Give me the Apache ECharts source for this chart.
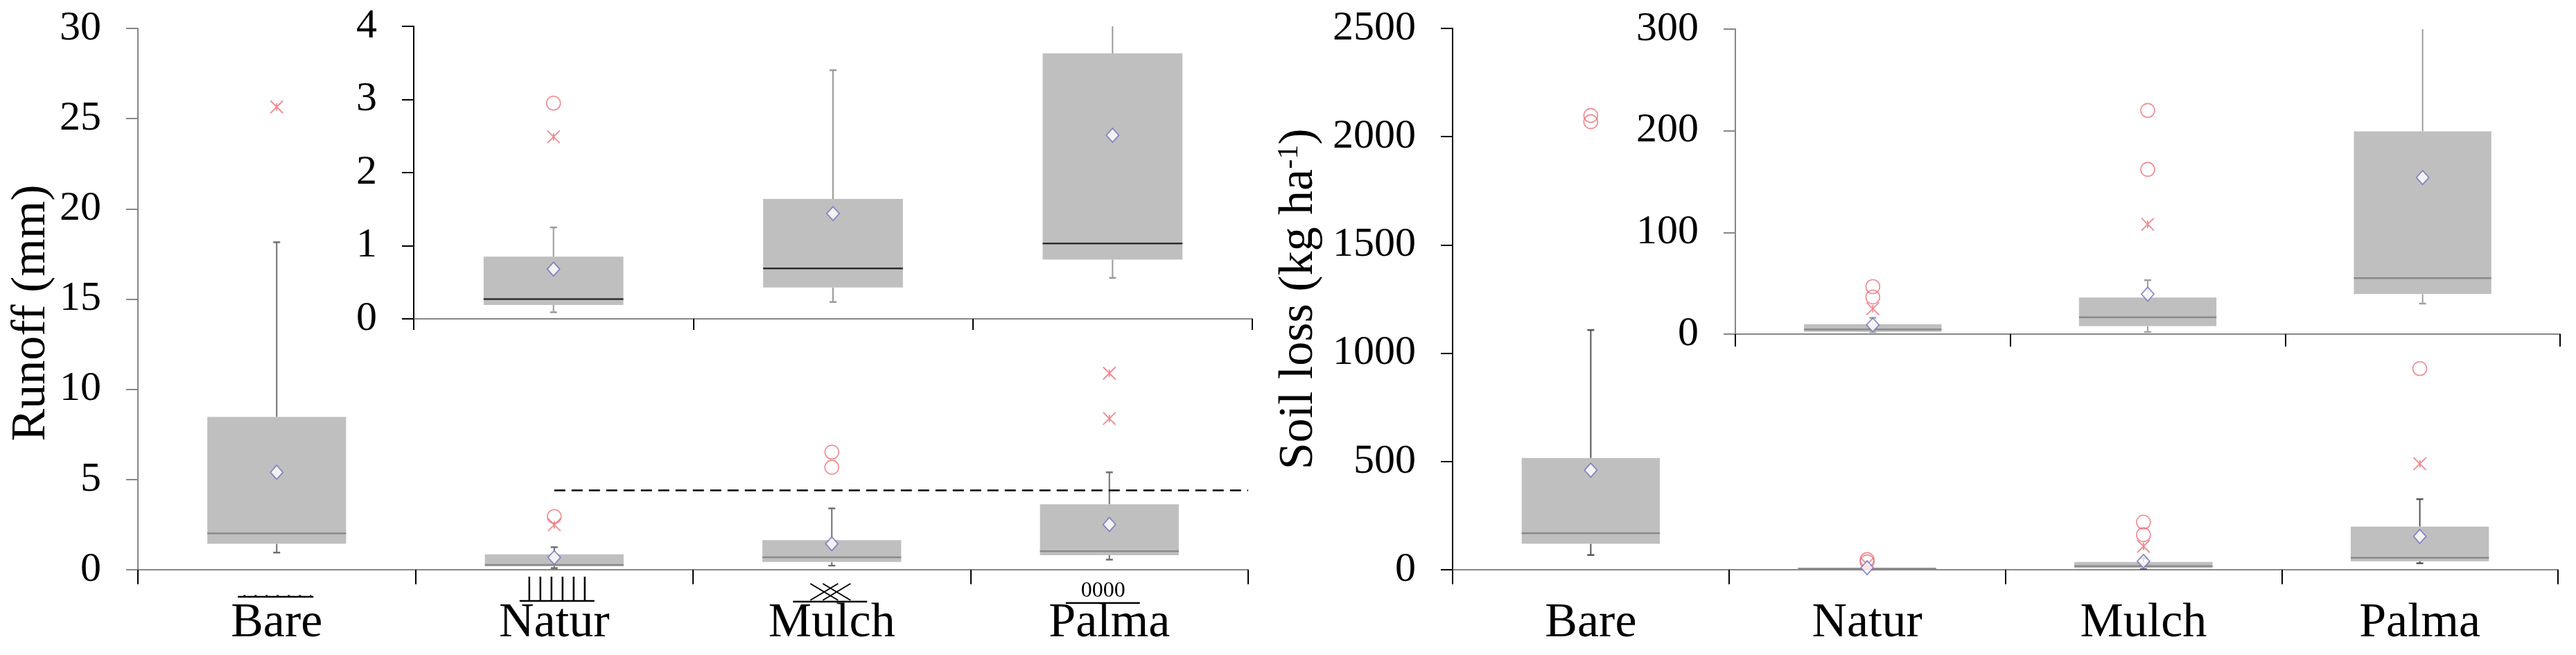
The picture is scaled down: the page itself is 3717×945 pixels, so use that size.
<!DOCTYPE html>
<html>
<head>
<meta charset="utf-8">
<script src="https://cdn.jsdelivr.net/npm/echarts@6/dist/echarts.min.js"></script>
<style>html,body{margin:0;padding:0;background:#fff}#c{width:3717px;height:945px}</style>
</head>
<body>
<div id="c"></div>
<script>
// ---------- data ----------
const categories = ['Bare', 'Natur', 'Mulch', 'Palma'];
const insetCategories = ['Natur', 'Mulch', 'Palma'];
const groupMarks = ['dash', 'bars', 'cross', 'zeros'];

const runoffTicks = [0, 5, 10, 15, 20, 25, 30];
const runoffInsetTicks = [0, 1, 2, 3, 4];
// [min, Q1, median, Q3, max]
const runoffBox = [
  [0.95, 1.44, 2.02, 8.47, 18.15],
  [0.09, 0.19, 0.27, 0.85, 1.25],
  [0.23, 0.43, 0.69, 1.64, 3.40],
  [0.56, 0.81, 1.03, 3.63, 5.40]
];
const runoffMean = [5.40, 0.68, 1.44, 2.51];
const runoffCircles = [['Natur', 2.95], ['Mulch', 6.52], ['Mulch', 5.68]];
const runoffStars = [['Bare', 25.65], ['Natur', 2.49], ['Palma', 10.89], ['Palma', 8.38]];
const runoffThreshold = [['Natur', 4.4]];

const soilTicks = [0, 500, 1000, 1500, 2000, 2500];
const soilInsetTicks = [0, 100, 200, 300];
const soilBox = [
  [68, 120, 169, 516, 1107],
  [2, 2.3, 4.6, 9.8, 16],
  [2.1, 7.9, 16.6, 36, 53],
  [30, 39.3, 55, 199.4, 326]
];
const soilMean = [460, 9, 39.3, 154];
const soilCircles = [['Bare', 2098], ['Bare', 2069], ['Natur', 46.7], ['Natur', 36.5], ['Mulch', 220], ['Mulch', 162], ['Palma', 929]];
const soilStars = [['Natur', 25], ['Mulch', 108], ['Palma', 489]];

// ---------- helpers ----------
const FONT = 'Liberation Serif';
const RED = '#ec6d76';
const STAR = 'path://M0,0L20,20M20,0L0,20M10,4L10,16';

function boxRender(medianColor, whiskerColor) {
  return function (params, api) {
    const i = api.value(0);
    const p = [1, 2, 3, 4, 5].map(k => api.coord([i, api.value(k)]));
    const cx = p[0][0];
    const bw = api.size([1, 0])[0] * 0.5;
    const cap = 10;
    const ln = (x1, y1, x2, y2, c, w) => ({ type: 'line', shape: { x1, y1, x2, y2 }, style: { stroke: c, lineWidth: w } });
    return {
      type: 'group',
      children: [
        ln(cx, p[4][1], cx, p[3][1], whiskerColor, 2),
        ln(cx - cap / 2, p[4][1], cx + cap / 2, p[4][1], whiskerColor, 2.5),
        ln(cx, p[1][1], cx, p[0][1], whiskerColor, 2),
        ln(cx - cap / 2, p[0][1], cx + cap / 2, p[0][1], whiskerColor, 2.5),
        { type: 'rect', shape: { x: cx - bw / 2, y: p[3][1], width: bw, height: p[1][1] - p[3][1] }, style: { fill: '#bfbfbf' } },
        ln(cx - bw / 2, p[2][1], cx + bw / 2, p[2][1], medianColor, 2.5)
      ]
    };
  };
}

function markRender(params, api) {
  const i = api.value(0);
  const p = api.coord([i, 0]);
  const cx = p[0], y0 = p[1];
  const ln = (x1, y1, x2, y2, w, dash) => ({ type: 'line', shape: { x1, y1, x2, y2 }, style: { stroke: '#000', lineWidth: w, lineDash: dash || null } });
  const ch = [];
  const kind = groupMarks[i];
  if (kind === 'dash') {
    ch.push(ln(cx - 56, y0 + 39, cx + 53, y0 + 39, 2.5));
    ch.push(ln(cx - 48, y0 + 38, cx + 50, y0 + 38, 3, [3, 13]));
  } else if (kind === 'bars') {
    ch.push(ln(cx - 50, y0 + 45, cx + 58, y0 + 45, 2.5));
    for (let k = 0; k < 6; k++) {
      const x = cx - 36 + k * 16;
      ch.push(ln(x, y0 + 10, x, y0 + 45, 2.5));
    }
  } else if (kind === 'cross') {
    ch.push(ln(cx - 56, y0 + 46, cx + 51, y0 + 46, 2.5));
    for (const dx of [-11, 7]) {
      ch.push(ln(cx + dx - 20, y0 + 20, cx + dx + 20, y0 + 44, 2));
      ch.push(ln(cx + dx + 20, y0 + 20, cx + dx - 20, y0 + 44, 2));
    }
  } else if (kind === 'zeros') {
    ch.push(ln(cx - 63, y0 + 48, cx + 44, y0 + 48, 2.5));
    ch.push({ type: 'text', style: { text: '0000', x: cx - 9, y: y0 + 47, align: 'center', verticalAlign: 'bottom', font: '32px "Liberation Serif"', fill: '#000' } });
  }
  return { type: 'group', children: ch };
}

function thresholdRender(params, api) {
  const p = api.coord([api.value(0), api.value(1)]);
  const xEnd = params.coordSys.x + params.coordSys.width;
  return { type: 'line', shape: { x1: p[0], y1: p[1], x2: xEnd, y2: p[1] }, style: { stroke: '#000', lineWidth: 2.5, lineDash: [16, 9] } };
}

function xAxisCfg(grid, data, showLabel, tickLen) {
  return {
    type: 'category', gridIndex: grid, data: data,
    axisLine: { show: true, lineStyle: { color: '#868686', width: 2 } },
    axisTick: { show: true, length: tickLen, lineStyle: { color: '#000', width: 2 } },
    axisLabel: { show: showLabel, fontSize: 70, fontFamily: FONT, color: '#000', margin: 43 },
    splitLine: { show: false }
  };
}
function yAxisCfg(grid, ticks, lineColor, name, nameGap, extraName) {
  const cfg = {
    type: 'value', gridIndex: grid,
    min: ticks[0], max: ticks[ticks.length - 1], interval: ticks[1] - ticks[0],
    axisLine: { show: true, lineStyle: { color: lineColor, width: 2 } },
    axisTick: { show: true, length: 17, lineStyle: { color: lineColor, width: 2 } },
    axisLabel: { fontSize: 60, fontFamily: FONT, color: '#000', margin: 53, formatter: v => String(v) },
    splitLine: { show: false }
  };
  if (name) {
    cfg.name = name;
    cfg.nameLocation = 'middle';
    cfg.nameGap = nameGap;
    cfg.nameTextStyle = Object.assign({ fontSize: 70, fontFamily: FONT, color: '#000' }, extraName || {});
  }
  return cfg;
}

const boxRows = (boxes, cats) => cats.map((c, i) => [i].concat(boxes[categories.indexOf(c)]));
const meanRows = (means, cats) => cats.map(c => [c, means[categories.indexOf(c)]]);
const inCats = (arr, cats) => arr.filter(d => cats.indexOf(d[0]) >= 0);

function seriesFor(grid, cats, boxes, means, circles, stars, medianColor, whiskerColor, clip) {
  return [
    { type: 'custom', xAxisIndex: grid, yAxisIndex: grid, clip: clip, renderItem: boxRender(medianColor, whiskerColor),
      encode: { x: 0, y: [1, 2, 3, 4, 5] }, data: boxRows(boxes, cats), z: 2 },
    { type: 'scatter', xAxisIndex: grid, yAxisIndex: grid, data: inCats(circles, cats), symbol: 'circle', symbolSize: 20,
      itemStyle: { color: 'rgba(0,0,0,0)', borderColor: RED, borderWidth: 1.6 }, z: 4 },
    { type: 'scatter', xAxisIndex: grid, yAxisIndex: grid, data: inCats(stars, cats), symbol: STAR, symbolSize: 18,
      itemStyle: { color: 'rgba(0,0,0,0)', borderColor: RED, borderWidth: 1.8 }, z: 4 },
    { type: 'scatter', xAxisIndex: grid, yAxisIndex: grid, data: meanRows(means, cats), symbol: 'diamond', symbolSize: [18, 20],
      itemStyle: { color: '#ffffff', borderColor: '#6f6fc0', borderWidth: 1.8 }, z: 5 }
  ];
}

const chart = echarts.init(document.getElementById('c'), null, { renderer: 'canvas' });
const option = {
  backgroundColor: '#ffffff',
  animation: false,
  grid: [
    { left: 199, top: 41, width: 1602, height: 781, outerBoundsMode: 'none', containLabel: false },
    { left: 597, top: 38, width: 1210, height: 422, outerBoundsMode: 'none', containLabel: false },
    { left: 2096, top: 41, width: 1595, height: 781, outerBoundsMode: 'none', containLabel: false },
    { left: 2504, top: 42, width: 1190, height: 440, outerBoundsMode: 'none', containLabel: false }
  ],
  xAxis: [
    xAxisCfg(0, categories, true, 21),
    xAxisCfg(1, insetCategories, false, 16),
    xAxisCfg(2, categories, true, 21),
    xAxisCfg(3, insetCategories, false, 18)
  ],
  yAxis: [
    yAxisCfg(0, runoffTicks, '#868686', 'Runoff (mm)', 118, { padding: [0, 40, 0, 0] }),
    yAxisCfg(1, runoffInsetTicks, '#000000'),
    yAxisCfg(2, soilTicks, '#000000', '{a|Soil loss (kg ha}{s|-1}{a|)}', 186, {
      rich: { a: { fontSize: 70, fontFamily: FONT, color: '#000' }, s: { fontSize: 42, fontFamily: FONT, color: '#000', verticalAlign: 'top' } }
    }),
    yAxisCfg(3, soilInsetTicks, '#868686')
  ],
  series: [].concat(
    seriesFor(0, categories, runoffBox, runoffMean, runoffCircles, runoffStars, '#8a8a8a', '#6e6e6e', true),
    seriesFor(1, insetCategories, runoffBox, runoffMean, runoffCircles, runoffStars, '#2e2e2e', '#9a9a9a', true),
    seriesFor(2, categories, soilBox, soilMean, soilCircles, soilStars, '#8a8a8a', '#555555', true),
    seriesFor(3, insetCategories, soilBox, soilMean, soilCircles, soilStars, '#8a8a8a', '#a0a0a0', true),
    [
      { type: 'custom', xAxisIndex: 0, yAxisIndex: 0, clip: false, renderItem: thresholdRender,
        encode: { x: 0, y: 1 }, data: runoffThreshold, z: 3 },
      { type: 'custom', xAxisIndex: 0, yAxisIndex: 0, clip: false, renderItem: markRender,
        encode: { x: 0 }, data: categories.map((c, i) => [i]), z: 3 }
    ]
  )
};
chart.setOption(option);
</script>
</body>
</html>
